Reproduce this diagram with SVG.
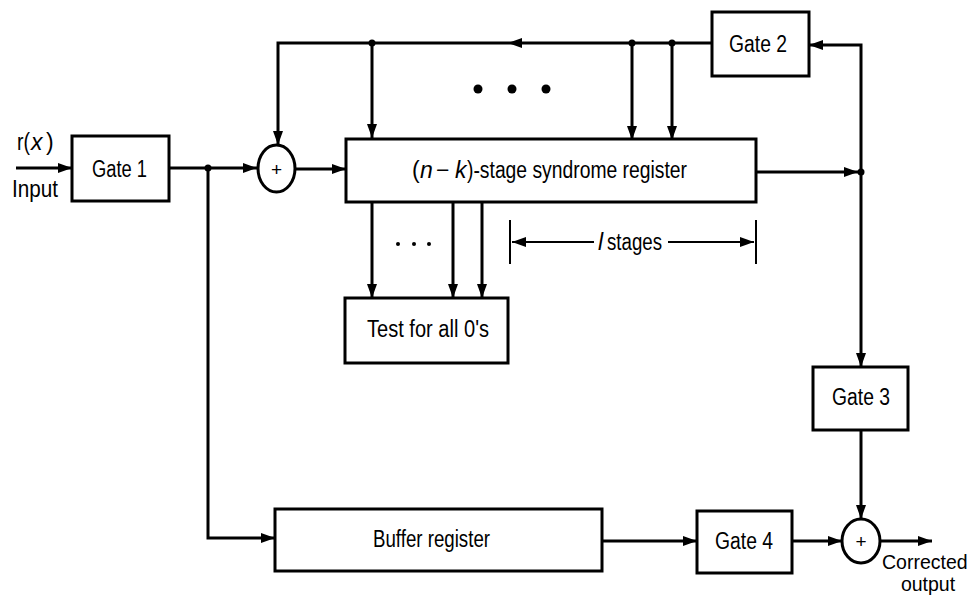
<svg xmlns="http://www.w3.org/2000/svg" xmlns:xlink="http://www.w3.org/1999/xlink" width="972" height="596" viewBox="0 0 972 596">
<style>
  .box { fill: #fff; stroke: #000; stroke-width: 3; }
  .ln { fill: none; stroke: #000; stroke-width: 3; }
  .thin { fill: none; stroke: #000; stroke-width: 2; }
  .t { font-family: "Liberation Sans", Arial, sans-serif; font-size: 23px; fill: #000; }
  .s { font-size: 19.5px; }
  .c { text-anchor: middle; }
  .i { font-style: italic; }
  .dot { fill: #000; }
</style>
<defs>
  <marker id="ah" markerUnits="userSpaceOnUse" markerWidth="16" markerHeight="12" refX="14" refY="6" orient="auto">
    <path d="M0,1 L14,6 L0,11 z" fill="#000"/>
  </marker>
  <path id="head" d="M0,0 L-14,-5 L-14,5 z" fill="#000"/>
</defs>
<rect width="972" height="596" fill="#fff"/>

<g id="connectors">
  <line class="ln" x1="16" y1="168" x2="72" y2="168" marker-end="url(#ah)"/>
  <line class="ln" x1="169" y1="168" x2="257" y2="168" marker-end="url(#ah)"/>
  <line class="ln" x1="295" y1="169" x2="346" y2="169" marker-end="url(#ah)"/>
  <polyline class="ln" points="208,168 208,538 275,538" marker-end="url(#ah)"/>
  <polyline class="ln" points="712,43 278,43 278,145" marker-end="url(#ah)"/>
  <use xlink:href="#head" transform="translate(508,43) rotate(180)"/>
  <line class="ln" x1="372" y1="43" x2="372" y2="138" marker-end="url(#ah)"/>
  <line class="ln" x1="632" y1="43" x2="632" y2="140" marker-end="url(#ah)"/>
  <line class="ln" x1="672" y1="43" x2="672" y2="140" marker-end="url(#ah)"/>
  <line class="ln" x1="756" y1="172" x2="858" y2="172" marker-end="url(#ah)"/>
  <polyline class="ln" points="861,172 861,45 809,45" marker-end="url(#ah)"/>
  <line class="ln" x1="861" y1="172" x2="861" y2="367" marker-end="url(#ah)"/>
  <line class="ln" x1="372" y1="202" x2="372" y2="298" marker-end="url(#ah)"/>
  <line class="ln" x1="453" y1="202" x2="453" y2="298" marker-end="url(#ah)"/>
  <line class="ln" x1="482" y1="202" x2="482" y2="298" marker-end="url(#ah)"/>
  <line class="ln" x1="861" y1="430" x2="861" y2="519" marker-end="url(#ah)"/>
  <line class="ln" x1="602" y1="541" x2="697" y2="541" marker-end="url(#ah)"/>
  <line class="ln" x1="792" y1="541" x2="842" y2="541" marker-end="url(#ah)"/>
  <line class="ln" x1="880" y1="541" x2="932" y2="541" marker-end="url(#ah)"/>
  <circle class="dot" cx="208" cy="168" r="3.5"/>
  <circle class="dot" cx="372" cy="43" r="3.5"/>
  <circle class="dot" cx="632" cy="43" r="3.5"/>
  <circle class="dot" cx="672" cy="43" r="3.5"/>
  <circle class="dot" cx="861" cy="172" r="3.5"/>
</g>

<g id="ellipsis-top">
  <circle class="dot" cx="478" cy="89" r="4.5"/>
  <circle class="dot" cx="512" cy="89" r="4.5"/>
  <circle class="dot" cx="546" cy="89" r="4.5"/>
</g>
<g id="ellipsis-bottom">
  <circle class="dot" cx="398" cy="244" r="2"/>
  <circle class="dot" cx="414" cy="244" r="2"/>
  <circle class="dot" cx="429" cy="244" r="2"/>
</g>

<g id="l-stages">
  <line class="thin" x1="510" y1="220" x2="510" y2="264"/>
  <line class="thin" x1="756" y1="220" x2="756" y2="264"/>
  <line class="thin" x1="594" y1="242" x2="512" y2="242" marker-end="url(#ah)"/>
  <line class="thin" x1="668" y1="242" x2="754" y2="242" marker-end="url(#ah)"/>
  <text class="t i" x="598" y="250">l</text>
  <text class="t" x="607" y="250" textLength="55" lengthAdjust="spacingAndGlyphs">stages</text>
</g>

<g id="input-label">
  <text class="t" x="17" y="150" textLength="13" lengthAdjust="spacingAndGlyphs">r(</text>
  <text class="t i" x="31" y="150">x</text>
  <text class="t" x="46" y="150">)</text>
  <text class="t" x="12" y="197" textLength="46" lengthAdjust="spacingAndGlyphs">Input</text>
</g>

<g id="gate1">
  <rect class="box" x="72" y="136" width="97" height="65"/>
  <text class="t" x="92" y="177" textLength="55" lengthAdjust="spacingAndGlyphs">Gate 1</text>
</g>

<g id="xor1">
  <ellipse class="box" cx="276.5" cy="168.5" rx="18.5" ry="23.5"/>
  <text class="t c" x="276.5" y="176" style="font-size:19px">+</text>
</g>

<g id="syndrome-register">
  <rect class="box" x="346" y="139" width="410" height="63"/>
  <text class="t" x="412" y="178">(</text>
  <text class="t i" x="420" y="178">n</text>
  <text class="t" x="436" y="178">−</text>
  <text class="t i" x="455" y="178">k</text>
  <text class="t" x="467" y="178" textLength="220" lengthAdjust="spacingAndGlyphs">)-stage syndrome register</text>
</g>

<g id="gate2">
  <rect class="box" x="712" y="12" width="97" height="64"/>
  <text class="t" x="729" y="52" textLength="58" lengthAdjust="spacingAndGlyphs">Gate 2</text>
</g>

<g id="test">
  <rect class="box" x="345" y="298" width="163" height="65"/>
  <text class="t" x="367" y="337" textLength="122" lengthAdjust="spacingAndGlyphs">Test for all 0's</text>
</g>

<g id="gate3">
  <rect class="box" x="813" y="367" width="95" height="63"/>
  <text class="t" x="832" y="405" textLength="58" lengthAdjust="spacingAndGlyphs">Gate 3</text>
</g>

<g id="buffer">
  <rect class="box" x="275" y="509" width="327" height="62"/>
  <text class="t" x="373" y="547" textLength="117" lengthAdjust="spacingAndGlyphs">Buffer register</text>
</g>

<g id="gate4">
  <rect class="box" x="697" y="511" width="95" height="62"/>
  <text class="t" x="715" y="549" textLength="58" lengthAdjust="spacingAndGlyphs">Gate 4</text>
</g>

<g id="xor2">
  <ellipse class="box" cx="861" cy="541" rx="19" ry="22"/>
  <text class="t c" x="861" y="548" style="font-size:19px">+</text>
</g>

<g id="output-label">
  <text class="t s" x="882" y="569">Corrected</text>
  <text class="t s c" x="928" y="591">output</text>
</g>
</svg>
